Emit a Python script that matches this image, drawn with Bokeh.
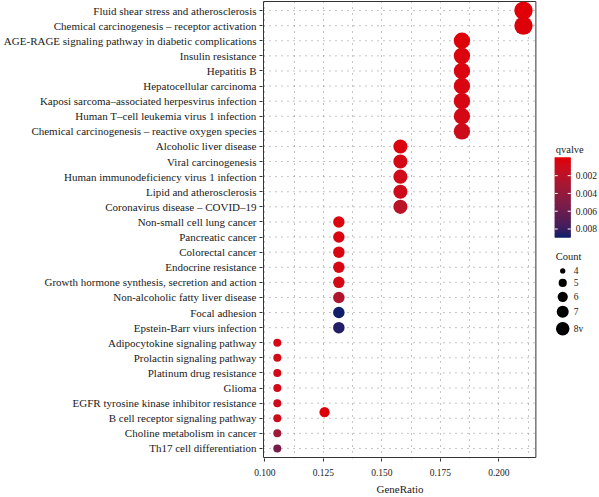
import numpy as np
from bokeh.plotting import figure
from bokeh.models import Range1d, FixedTicker, NumeralTickFormatter, ColumnDataSource, Title
from bokeh.embed import file_html
from bokeh.resources import INLINE
from bokeh.core.properties import value
from bokeh.transform import linear_cmap

# ---------------- data (top to bottom) ----------------
terms = [
    "Fluid shear stress and atherosclerosis",
    "Chemical carcinogenesis \u2013 receptor activation",
    "AGE-RAGE signaling pathway in diabetic complications",
    "Insulin resistance",
    "Hepatitis B",
    "Hepatocellular carcinoma",
    "Kaposi sarcoma\u2013associated herpesvirus infection",
    "Human T\u2013cell leukemia virus 1 infection",
    "Chemical carcinogenesis \u2013 reactive oxygen species",
    "Alcoholic liver disease",
    "Viral carcinogenesis",
    "Human immunodeficiency virus 1 infection",
    "Lipid and atherosclerosis",
    "Coronavirus disease \u2013 COVID\u201319",
    "Non-small cell lung cancer",
    "Pancreatic cancer",
    "Colorectal cancer",
    "Endocrine resistance",
    "Growth hormone synthesis, secretion and action",
    "Non-alcoholic fatty liver disease",
    "Focal adhesion",
    "Epstein-Barr viurs infection",
    "Adipocytokine signaling pathway",
    "Prolactin signaling pathway",
    "Platinum drug resistance",
    "Glioma",
    "EGFR tyrosine kinase inhibitor resistance",
    "B cell receptor signaling pathway",
    "Choline metabolism in cancer",
    "Th17 cell differentiation",
]
gene_ratio = [0.2105, 0.2105,
              0.1842, 0.1842, 0.1842, 0.1842, 0.1842, 0.1842, 0.1842,
              0.1579, 0.1579, 0.1579, 0.1579, 0.1579,
              0.1316, 0.1316, 0.1316, 0.1316, 0.1316, 0.1316, 0.1316, 0.1316,
              0.1053, 0.1053, 0.1053, 0.1053, 0.1053, 0.1053, 0.1053, 0.1053]
counts = [8, 8,
          7, 7, 7, 7, 7, 7, 7,
          6, 6, 6, 6, 6,
          5, 5, 5, 5, 5, 5, 5, 5,
          4, 4, 4, 4, 4, 4, 4, 4]
qvalues = [0.00003, 0.0002,
           0.0002, 0.0003, 0.0004, 0.0005, 0.0006, 0.0007, 0.0011,
           0.0003, 0.0007, 0.0009, 0.0011, 0.0021,
           0.0003, 0.0004, 0.0005, 0.0006, 0.0008, 0.0026, 0.0089, 0.0086,
           0.0007, 0.0008, 0.0009, 0.0009, 0.0010, 0.0011, 0.0036, 0.0056]

# stray point lying between two rows
extra_between = ["EGFR tyrosine kinase inhibitor resistance", "B cell receptor signaling pathway"]
extra_frac = [0.6]
extra_ratio = [0.1255]
extra_count = [4.6]
extra_q = [0.0002]

x_ticks = [0.100, 0.125, 0.150, 0.175, 0.200]
x_minor = [0.1125, 0.1375, 0.1625, 0.1875, 0.2125]
q_ticks = [0.002, 0.004, 0.006, 0.008]
legend_counts = [4, 5, 6, 7, 8]
legend_labels = ["4", "5", "6", "7", "8v"]

# ---------------- palette (Lab interpolation red -> navy) ----------------
def hex2rgb(h):
    h = h.lstrip("#")
    return np.array([int(h[i:i + 2], 16) for i in (0, 2, 4)], float) / 255.0

M = np.array([[0.4124, 0.3576, 0.1805], [0.2126, 0.7152, 0.0722], [0.0193, 0.1192, 0.9505]])
Minv = np.linalg.inv(M)
WHITE = np.array([0.95047, 1.0, 1.08883])

def rgb2lab(c):
    lin = np.where(c <= 0.04045, c / 12.92, ((c + 0.055) / 1.055) ** 2.4)
    xyz = M @ lin / WHITE
    f = np.where(xyz > 0.008856, np.cbrt(xyz), 7.787 * xyz + 16 / 116)
    return np.array([116 * f[1] - 16, 500 * (f[0] - f[1]), 200 * (f[1] - f[2])])

def lab2hex(lab):
    fy = (lab[0] + 16) / 116
    fx = fy + lab[1] / 500
    fz = fy - lab[2] / 200
    f = np.array([fx, fy, fz])
    xyz = np.where(f ** 3 > 0.008856, f ** 3, (f - 16 / 116) / 7.787) * WHITE
    lin = np.clip(Minv @ xyz, 0, 1)
    c = np.where(lin <= 0.0031308, 12.92 * lin, 1.055 * lin ** (1 / 2.4) - 0.055)
    c = np.clip(np.round(c * 255), 0, 255).astype(int)
    return "#%02x%02x%02x" % tuple(c)

lab_lo = rgb2lab(hex2rgb("#E00006"))
lab_hi = rgb2lab(hex2rgb("#101E68"))
palette = [lab2hex(lab_lo + (lab_hi - lab_lo) * t) for t in np.linspace(0, 1, 256)]

q_lo, q_hi = min(qvalues + extra_q), max(qvalues + extra_q)
cmap = linear_cmap("q", palette, q_lo, q_hi)

def dot_size(c):
    return float(np.sqrt(64 + (c - 4) * 68))

def legend_size(c):
    return float(np.sqrt(28 + (c - 4) * 38.5))

n = len(terms)
ypos = {t: n - i for i, t in enumerate(terms)}

src = ColumnDataSource(dict(
    x=gene_ratio, y=[ypos[t] for t in terms], q=qvalues,
    s=[dot_size(c) for c in counts]))
ya, yb = ypos[extra_between[0]], ypos[extra_between[1]]
src_extra = ColumnDataSource(dict(
    x=extra_ratio, y=[ya + (yb - ya) * extra_frac[0]], q=extra_q,
    s=[dot_size(c) for c in extra_count]))

FONT = "Liberation Serif"
TXT = "#1a1a1a"
GRID = "#8a8a8a"

# ---------------- geometry (pixels, page coordinates) ----------------
W, H = 599, 497
PANEL_L, PANEL_R, PANEL_T, PANEL_B = 261, 535, 1, 458     # reference panel box
FRAME_L, FRAME_R = PANEL_L - 1, W
X_LO, X_HI = 0.0994, 0.2158                               # panel x limits
Y_LO, Y_HI = 0.4, n + 0.6                                 # panel y limits
xpx = (X_HI - X_LO) / (PANEL_R - PANEL_L)
ypx = (Y_HI - Y_LO) / (PANEL_B - PANEL_T)

p = figure(width=W, height=H,
           x_range=Range1d(X_LO - xpx, X_HI + (FRAME_R - PANEL_R) * xpx),
           y_range=Range1d(Y_LO - ypx, Y_HI + ypx),
           output_backend="svg", toolbar_location=None,
           min_border_left=FRAME_L, min_border_right=0,
           min_border_top=0, min_border_bottom=0)
p.extra_x_ranges = {"px": Range1d(FRAME_L, FRAME_R)}
p.extra_y_ranges = {"py": Range1d(PANEL_B + 1, PANEL_T - 1)}
p.outline_line_color = None
p.background_fill_color = "white"

p.xaxis.ticker = FixedTicker(ticks=x_ticks, minor_ticks=x_minor)
p.xaxis.formatter = NumeralTickFormatter(format="0.000")
p.yaxis.ticker = FixedTicker(ticks=list(range(1, n + 1)))
p.yaxis.major_label_overrides = {ypos[t]: t for t in terms}

for ax in (p.xaxis, p.yaxis):
    ax.axis_line_color = None
    ax.major_tick_line_color = "#333333"
    ax.major_tick_out = 3
    ax.major_tick_in = 0
    ax.minor_tick_line_color = None
    ax.major_label_text_font = FONT
    ax.major_label_text_color = TXT
    ax.major_label_standoff = 3
p.yaxis.major_label_text_font_size = "11px"
p.xaxis.major_label_text_font_size = "9.5px"
p.xaxis.major_label_standoff = 6

t = Title(text="GeneRatio", align="left", offset=(PANEL_L + PANEL_R) / 2 - FRAME_L - 24,
          text_font=FONT, text_font_size="11px", text_font_style="normal",
          text_color=TXT, standoff=5)
p.add_layout(t, "below")

p.xgrid.ticker = FixedTicker(ticks=x_ticks, minor_ticks=x_minor)
p.xgrid.grid_line_color = GRID
p.xgrid.grid_line_dash = "1 5"
p.xgrid.minor_grid_line_color = GRID
p.xgrid.minor_grid_line_dash = "1 5"
p.ygrid.visible = False
p.segment(x0=X_LO, x1=X_HI, y0=list(range(1, n + 1)), y1=list(range(1, n + 1)),
          line_color=GRID, line_dash="1 5", line_width=1)
p.quad(left=[X_LO], right=[X_HI], bottom=[Y_LO], top=[Y_HI],
       fill_color=None, line_color="#333333", line_width=1)

p.scatter("x", "y", size="s", source=src, fill_color=cmap, line_color=None)
p.scatter("x", "y", size="s", source=src_extra, fill_color=cmap, line_color=None)

# ---------------- legends (reference pixel coordinates) ----------------
LG = dict(x_range_name="px", y_range_name="py")
bar_x0, bar_x1, bar_y0, bar_y1 = 554, 570, 158, 237
vals = np.linspace(q_lo, q_hi, 100)
step = (bar_y1 - bar_y0) / (len(vals) - 1)
bar_src = ColumnDataSource(dict(
    q=list(vals),
    y=[bar_y0 + (v - q_lo) / (q_hi - q_lo) * (bar_y1 - bar_y0) for v in vals]))
p.rect(x=(bar_x0 + bar_x1) / 2, y="y", width=bar_x1 - bar_x0, height=step * 2.2,
       source=bar_src, fill_color=cmap, line_color=None, **LG)
ty = [bar_y0 + (v - q_lo) / (q_hi - q_lo) * (bar_y1 - bar_y0) for v in q_ticks]
p.segment(x0=bar_x0, x1=bar_x0 + 3, y0=ty, y1=ty, line_color="white", line_width=1, **LG)
p.segment(x0=bar_x1 - 3, x1=bar_x1, y0=ty, y1=ty, line_color="white", line_width=1, **LG)
p.text(x=575, y=ty, text=["%.3f" % v for v in q_ticks], text_font=value(FONT),
       text_font_size="9.5px", text_color=TXT, text_baseline="middle", text_align="left", **LG)
p.text(x=[555], y=[149], text=["qvalve"], text_font=value(FONT), text_font_size="10.5px",
       text_color=TXT, text_baseline="middle", text_align="left", **LG)

p.text(x=[555], y=[257], text=["Count"], text_font=value(FONT), text_font_size="10.5px",
       text_color=TXT, text_baseline="middle", text_align="left", **LG)
leg_y = [271, 283, 297, 312, 329]
p.scatter(x=[562] * len(legend_counts), y=leg_y, size=[legend_size(c) for c in legend_counts],
          fill_color="black", line_color=None, **LG)
p.text(x=[573] * len(legend_labels), y=leg_y, text=legend_labels, text_font=value(FONT),
       text_font_size="9.5px", text_color=TXT, text_baseline="middle", text_align="left", **LG)

open("out.html", "w").write(file_html(p, INLINE))
